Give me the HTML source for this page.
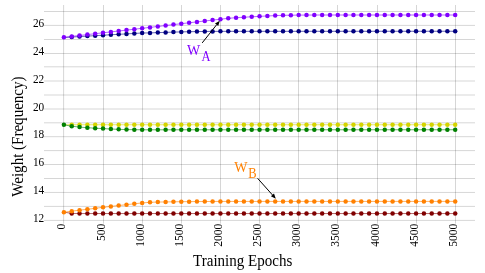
<!DOCTYPE html>
<html><head><meta charset="utf-8"><title>Training chart</title>
<style>
html,body{margin:0;padding:0;background:#fff;}
svg{display:block;font-family:"Liberation Serif",serif;will-change:transform;transform:translateZ(0);}
</style></head><body>
<svg width="485" height="273" viewBox="0 0 485 273">
<rect width="485" height="273" fill="#fff"/>

<g stroke="#000" stroke-opacity="0.16" stroke-width="1" fill="none">
<line x1="44" x2="475" y1="220.40" y2="220.40"/>
<line x1="44" x2="475" y1="206.40" y2="206.40"/>
<line x1="44" x2="475" y1="192.45" y2="192.45"/>
<line x1="44" x2="475" y1="178.50" y2="178.50"/>
<line x1="44" x2="475" y1="164.50" y2="164.50"/>
<line x1="44" x2="475" y1="150.60" y2="150.60"/>
<line x1="44" x2="475" y1="136.70" y2="136.70"/>
<line x1="44" x2="475" y1="122.80" y2="122.80"/>
<line x1="44" x2="475" y1="109.00" y2="109.00"/>
<line x1="44" x2="475" y1="95.00" y2="95.00"/>
<line x1="44" x2="475" y1="81.00" y2="81.00"/>
<line x1="44" x2="475" y1="66.80" y2="66.80"/>
<line x1="44" x2="475" y1="53.50" y2="53.50"/>
<line x1="44" x2="475" y1="39.50" y2="39.50"/>
<line x1="44" x2="475" y1="25.40" y2="25.40"/>
<line x1="44" x2="475" y1="11.50" y2="11.50"/>
<line x1="63.6" x2="63.6" y1="5" y2="223.6"/>
<line x1="103.5" x2="103.5" y1="5" y2="223.6"/>
<line x1="142.5" x2="142.5" y1="5" y2="223.6"/>
<line x1="181.5" x2="181.5" y1="5" y2="223.6"/>
<line x1="220.5" x2="220.5" y1="5" y2="223.6"/>
<line x1="259.5" x2="259.5" y1="5" y2="223.6"/>
<line x1="298.5" x2="298.5" y1="5" y2="223.6"/>
<line x1="337.5" x2="337.5" y1="5" y2="223.6"/>
<line x1="377.5" x2="377.5" y1="5" y2="223.6"/>
<line x1="416.5" x2="416.5" y1="5" y2="223.6"/>
<line x1="455.5" x2="455.5" y1="5" y2="223.6"/>
</g>
<g font-size="12" fill="#000" text-anchor="end">
<text transform="translate(44.2,222.00) scale(0.94,1)">12</text>
<text transform="translate(44.2,194.05) scale(0.94,1)">14</text>
<text transform="translate(44.2,166.10) scale(0.94,1)">16</text>
<text transform="translate(44.2,138.30) scale(0.94,1)">18</text>
<text transform="translate(44.2,110.60) scale(0.94,1)">20</text>
<text transform="translate(44.2,82.60) scale(0.94,1)">22</text>
<text transform="translate(44.2,55.10) scale(0.94,1)">24</text>
<text transform="translate(44.2,27.00) scale(0.94,1)">26</text>
</g>
<g font-size="12.4" fill="#000" text-anchor="end">
<text transform="translate(64.85,223.7) rotate(-90) scale(0.93,1)">0</text>
<text transform="translate(104.75,223.7) rotate(-90) scale(0.93,1)">500</text>
<text transform="translate(143.75,223.7) rotate(-90) scale(0.93,1)">1000</text>
<text transform="translate(182.75,223.7) rotate(-90) scale(0.93,1)">1500</text>
<text transform="translate(221.75,223.7) rotate(-90) scale(0.93,1)">2000</text>
<text transform="translate(260.75,223.7) rotate(-90) scale(0.93,1)">2500</text>
<text transform="translate(299.75,223.7) rotate(-90) scale(0.93,1)">3000</text>
<text transform="translate(338.75,223.7) rotate(-90) scale(0.93,1)">3500</text>
<text transform="translate(378.75,223.7) rotate(-90) scale(0.93,1)">4000</text>
<text transform="translate(417.75,223.7) rotate(-90) scale(0.93,1)">4500</text>
<text transform="translate(456.75,223.7) rotate(-90) scale(0.93,1)">5000</text>
</g>
<text transform="translate(242.7,265.6) scale(0.94,1)" font-size="16" text-anchor="middle" fill="#000">Training Epochs</text>
<text transform="translate(23,136.6) rotate(-90) scale(0.94,1)" font-size="16" text-anchor="middle" fill="#000">Weight (Frequency)</text>
<polyline points="63.90,37.50 71.73,37.04 79.55,36.58 87.38,36.12 95.20,35.66 103.03,35.20 110.86,34.76 118.68,34.32 126.51,33.88 134.33,33.44 142.16,33.00 149.99,32.90 157.81,32.60 165.64,32.40 173.46,32.10 181.29,31.90 189.12,31.70 196.94,31.60 204.77,31.45 212.59,31.40 220.42,31.35 228.25,31.35 236.07,31.34 243.90,31.34 251.72,31.34 259.55,31.33 267.38,31.33 275.20,31.33 283.03,31.32 290.85,31.32 298.68,31.32 306.51,31.31 314.33,31.31 322.16,31.31 329.98,31.30 337.81,31.30 345.64,31.30 353.46,31.29 361.29,31.29 369.11,31.29 376.94,31.28 384.77,31.28 392.59,31.28 400.42,31.27 408.24,31.27 416.07,31.27 423.90,31.26 431.72,31.26 439.55,31.26 447.37,31.25 455.20,31.25" fill="none" stroke="#000080" stroke-width="1" stroke-opacity="0.6"/>
<g fill="#000080"><circle cx="71.73" cy="37.04" r="2.25"/><circle cx="79.55" cy="36.58" r="2.25"/><circle cx="87.38" cy="36.12" r="2.25"/><circle cx="95.20" cy="35.66" r="2.25"/><circle cx="103.03" cy="35.20" r="2.25"/><circle cx="110.86" cy="34.76" r="2.25"/><circle cx="118.68" cy="34.32" r="2.25"/><circle cx="126.51" cy="33.88" r="2.25"/><circle cx="134.33" cy="33.44" r="2.25"/><circle cx="142.16" cy="33.00" r="2.25"/><circle cx="149.99" cy="32.90" r="2.25"/><circle cx="157.81" cy="32.60" r="2.25"/><circle cx="165.64" cy="32.40" r="2.25"/><circle cx="173.46" cy="32.10" r="2.25"/><circle cx="181.29" cy="31.90" r="2.25"/><circle cx="189.12" cy="31.70" r="2.25"/><circle cx="196.94" cy="31.60" r="2.25"/><circle cx="204.77" cy="31.45" r="2.25"/><circle cx="212.59" cy="31.40" r="2.25"/><circle cx="220.42" cy="31.35" r="2.25"/><circle cx="228.25" cy="31.35" r="2.25"/><circle cx="236.07" cy="31.34" r="2.25"/><circle cx="243.90" cy="31.34" r="2.25"/><circle cx="251.72" cy="31.34" r="2.25"/><circle cx="259.55" cy="31.33" r="2.25"/><circle cx="267.38" cy="31.33" r="2.25"/><circle cx="275.20" cy="31.33" r="2.25"/><circle cx="283.03" cy="31.32" r="2.25"/><circle cx="290.85" cy="31.32" r="2.25"/><circle cx="298.68" cy="31.32" r="2.25"/><circle cx="306.51" cy="31.31" r="2.25"/><circle cx="314.33" cy="31.31" r="2.25"/><circle cx="322.16" cy="31.31" r="2.25"/><circle cx="329.98" cy="31.30" r="2.25"/><circle cx="337.81" cy="31.30" r="2.25"/><circle cx="345.64" cy="31.30" r="2.25"/><circle cx="353.46" cy="31.29" r="2.25"/><circle cx="361.29" cy="31.29" r="2.25"/><circle cx="369.11" cy="31.29" r="2.25"/><circle cx="376.94" cy="31.28" r="2.25"/><circle cx="384.77" cy="31.28" r="2.25"/><circle cx="392.59" cy="31.28" r="2.25"/><circle cx="400.42" cy="31.27" r="2.25"/><circle cx="408.24" cy="31.27" r="2.25"/><circle cx="416.07" cy="31.27" r="2.25"/><circle cx="423.90" cy="31.26" r="2.25"/><circle cx="431.72" cy="31.26" r="2.25"/><circle cx="439.55" cy="31.26" r="2.25"/><circle cx="447.37" cy="31.25" r="2.25"/><circle cx="455.20" cy="31.25" r="2.25"/></g>
<polyline points="63.90,37.30 71.73,36.40 79.55,35.50 87.38,34.60 95.20,33.70 103.03,32.80 110.86,31.90 118.68,31.00 126.51,30.10 134.33,29.20 142.16,28.30 149.99,27.38 157.81,26.46 165.64,25.54 173.46,24.62 181.29,23.70 189.12,22.80 196.94,21.90 204.77,21.00 212.59,20.10 220.42,19.20 228.25,18.30 236.07,17.70 243.90,17.20 251.72,16.80 259.55,16.35 267.38,15.96 275.20,15.60 283.03,15.30 290.85,15.20 298.68,15.10 306.51,15.07 314.33,15.03 322.16,15.00 329.98,15.00 337.81,15.00 345.64,15.00 353.46,15.00 361.29,15.00 369.11,15.00 376.94,15.00 384.77,15.00 392.59,15.00 400.42,15.00 408.24,15.00 416.07,15.00 423.90,15.00 431.72,15.00 439.55,15.00 447.37,15.00 455.20,15.00" fill="none" stroke="#8000ff" stroke-width="1" stroke-opacity="0.6"/>
<g fill="#8000ff"><circle cx="63.90" cy="37.30" r="2.25"/><circle cx="71.73" cy="36.40" r="2.25"/><circle cx="79.55" cy="35.50" r="2.25"/><circle cx="87.38" cy="34.60" r="2.25"/><circle cx="95.20" cy="33.70" r="2.25"/><circle cx="103.03" cy="32.80" r="2.25"/><circle cx="110.86" cy="31.90" r="2.25"/><circle cx="118.68" cy="31.00" r="2.25"/><circle cx="126.51" cy="30.10" r="2.25"/><circle cx="134.33" cy="29.20" r="2.25"/><circle cx="142.16" cy="28.30" r="2.25"/><circle cx="149.99" cy="27.38" r="2.25"/><circle cx="157.81" cy="26.46" r="2.25"/><circle cx="165.64" cy="25.54" r="2.25"/><circle cx="173.46" cy="24.62" r="2.25"/><circle cx="181.29" cy="23.70" r="2.25"/><circle cx="189.12" cy="22.80" r="2.25"/><circle cx="196.94" cy="21.90" r="2.25"/><circle cx="204.77" cy="21.00" r="2.25"/><circle cx="212.59" cy="20.10" r="2.25"/><circle cx="220.42" cy="19.20" r="2.25"/><circle cx="228.25" cy="18.30" r="2.25"/><circle cx="236.07" cy="17.70" r="2.25"/><circle cx="243.90" cy="17.20" r="2.25"/><circle cx="251.72" cy="16.80" r="2.25"/><circle cx="259.55" cy="16.35" r="2.25"/><circle cx="267.38" cy="15.96" r="2.25"/><circle cx="275.20" cy="15.60" r="2.25"/><circle cx="283.03" cy="15.30" r="2.25"/><circle cx="290.85" cy="15.20" r="2.25"/><circle cx="298.68" cy="15.10" r="2.25"/><circle cx="306.51" cy="15.07" r="2.25"/><circle cx="314.33" cy="15.03" r="2.25"/><circle cx="322.16" cy="15.00" r="2.25"/><circle cx="329.98" cy="15.00" r="2.25"/><circle cx="337.81" cy="15.00" r="2.25"/><circle cx="345.64" cy="15.00" r="2.25"/><circle cx="353.46" cy="15.00" r="2.25"/><circle cx="361.29" cy="15.00" r="2.25"/><circle cx="369.11" cy="15.00" r="2.25"/><circle cx="376.94" cy="15.00" r="2.25"/><circle cx="384.77" cy="15.00" r="2.25"/><circle cx="392.59" cy="15.00" r="2.25"/><circle cx="400.42" cy="15.00" r="2.25"/><circle cx="408.24" cy="15.00" r="2.25"/><circle cx="416.07" cy="15.00" r="2.25"/><circle cx="423.90" cy="15.00" r="2.25"/><circle cx="431.72" cy="15.00" r="2.25"/><circle cx="439.55" cy="15.00" r="2.25"/><circle cx="447.37" cy="15.00" r="2.25"/><circle cx="455.20" cy="15.00" r="2.25"/></g>
<polyline points="63.90,124.75 71.73,124.75 79.55,124.75 87.38,124.75 95.20,124.75 103.03,124.75 110.86,124.75 118.68,124.75 126.51,124.75 134.33,124.75 142.16,124.75 149.99,124.75 157.81,124.75 165.64,124.75 173.46,124.75 181.29,124.75 189.12,124.75 196.94,124.75 204.77,124.75 212.59,124.75 220.42,124.75 228.25,124.75 236.07,124.75 243.90,124.75 251.72,124.75 259.55,124.75 267.38,124.75 275.20,124.75 283.03,124.75 290.85,124.75 298.68,124.75 306.51,124.75 314.33,124.75 322.16,124.75 329.98,124.75 337.81,124.75 345.64,124.75 353.46,124.75 361.29,124.75 369.11,124.75 376.94,124.75 384.77,124.75 392.59,124.75 400.42,124.75 408.24,124.75 416.07,124.75 423.90,124.75 431.72,124.75 439.55,124.75 447.37,124.75 455.20,124.75" fill="none" stroke="#d4d400" stroke-width="1" stroke-opacity="0.6"/>
<g fill="#d4d400"><circle cx="71.73" cy="124.75" r="2.25"/><circle cx="79.55" cy="124.75" r="2.25"/><circle cx="87.38" cy="124.75" r="2.25"/><circle cx="95.20" cy="124.75" r="2.25"/><circle cx="103.03" cy="124.75" r="2.25"/><circle cx="110.86" cy="124.75" r="2.25"/><circle cx="118.68" cy="124.75" r="2.25"/><circle cx="126.51" cy="124.75" r="2.25"/><circle cx="134.33" cy="124.75" r="2.25"/><circle cx="142.16" cy="124.75" r="2.25"/><circle cx="149.99" cy="124.75" r="2.25"/><circle cx="157.81" cy="124.75" r="2.25"/><circle cx="165.64" cy="124.75" r="2.25"/><circle cx="173.46" cy="124.75" r="2.25"/><circle cx="181.29" cy="124.75" r="2.25"/><circle cx="189.12" cy="124.75" r="2.25"/><circle cx="196.94" cy="124.75" r="2.25"/><circle cx="204.77" cy="124.75" r="2.25"/><circle cx="212.59" cy="124.75" r="2.25"/><circle cx="220.42" cy="124.75" r="2.25"/><circle cx="228.25" cy="124.75" r="2.25"/><circle cx="236.07" cy="124.75" r="2.25"/><circle cx="243.90" cy="124.75" r="2.25"/><circle cx="251.72" cy="124.75" r="2.25"/><circle cx="259.55" cy="124.75" r="2.25"/><circle cx="267.38" cy="124.75" r="2.25"/><circle cx="275.20" cy="124.75" r="2.25"/><circle cx="283.03" cy="124.75" r="2.25"/><circle cx="290.85" cy="124.75" r="2.25"/><circle cx="298.68" cy="124.75" r="2.25"/><circle cx="306.51" cy="124.75" r="2.25"/><circle cx="314.33" cy="124.75" r="2.25"/><circle cx="322.16" cy="124.75" r="2.25"/><circle cx="329.98" cy="124.75" r="2.25"/><circle cx="337.81" cy="124.75" r="2.25"/><circle cx="345.64" cy="124.75" r="2.25"/><circle cx="353.46" cy="124.75" r="2.25"/><circle cx="361.29" cy="124.75" r="2.25"/><circle cx="369.11" cy="124.75" r="2.25"/><circle cx="376.94" cy="124.75" r="2.25"/><circle cx="384.77" cy="124.75" r="2.25"/><circle cx="392.59" cy="124.75" r="2.25"/><circle cx="400.42" cy="124.75" r="2.25"/><circle cx="408.24" cy="124.75" r="2.25"/><circle cx="416.07" cy="124.75" r="2.25"/><circle cx="423.90" cy="124.75" r="2.25"/><circle cx="431.72" cy="124.75" r="2.25"/><circle cx="439.55" cy="124.75" r="2.25"/><circle cx="447.37" cy="124.75" r="2.25"/><circle cx="455.20" cy="124.75" r="2.25"/></g>
<polyline points="63.90,124.86 71.73,126.20 79.55,127.10 87.38,127.70 95.20,128.20 103.03,128.60 110.86,129.00 118.68,129.35 126.51,129.60 134.33,129.70 142.16,129.80 149.99,129.80 157.81,129.80 165.64,129.80 173.46,129.80 181.29,129.79 189.12,129.79 196.94,129.79 204.77,129.79 212.59,129.79 220.42,129.79 228.25,129.79 236.07,129.78 243.90,129.78 251.72,129.78 259.55,129.78 267.38,129.78 275.20,129.78 283.03,129.78 290.85,129.78 298.68,129.78 306.51,129.77 314.33,129.77 322.16,129.77 329.98,129.77 337.81,129.77 345.64,129.77 353.46,129.77 361.29,129.77 369.11,129.76 376.94,129.76 384.77,129.76 392.59,129.76 400.42,129.76 408.24,129.76 416.07,129.76 423.90,129.75 431.72,129.75 439.55,129.75 447.37,129.75 455.20,129.75" fill="none" stroke="#008000" stroke-width="1" stroke-opacity="0.6"/>
<g fill="#008000"><circle cx="63.90" cy="124.86" r="2.25"/><circle cx="71.73" cy="126.20" r="2.25"/><circle cx="79.55" cy="127.10" r="2.25"/><circle cx="87.38" cy="127.70" r="2.25"/><circle cx="95.20" cy="128.20" r="2.25"/><circle cx="103.03" cy="128.60" r="2.25"/><circle cx="110.86" cy="129.00" r="2.25"/><circle cx="118.68" cy="129.35" r="2.25"/><circle cx="126.51" cy="129.60" r="2.25"/><circle cx="134.33" cy="129.70" r="2.25"/><circle cx="142.16" cy="129.80" r="2.25"/><circle cx="149.99" cy="129.80" r="2.25"/><circle cx="157.81" cy="129.80" r="2.25"/><circle cx="165.64" cy="129.80" r="2.25"/><circle cx="173.46" cy="129.80" r="2.25"/><circle cx="181.29" cy="129.79" r="2.25"/><circle cx="189.12" cy="129.79" r="2.25"/><circle cx="196.94" cy="129.79" r="2.25"/><circle cx="204.77" cy="129.79" r="2.25"/><circle cx="212.59" cy="129.79" r="2.25"/><circle cx="220.42" cy="129.79" r="2.25"/><circle cx="228.25" cy="129.79" r="2.25"/><circle cx="236.07" cy="129.78" r="2.25"/><circle cx="243.90" cy="129.78" r="2.25"/><circle cx="251.72" cy="129.78" r="2.25"/><circle cx="259.55" cy="129.78" r="2.25"/><circle cx="267.38" cy="129.78" r="2.25"/><circle cx="275.20" cy="129.78" r="2.25"/><circle cx="283.03" cy="129.78" r="2.25"/><circle cx="290.85" cy="129.78" r="2.25"/><circle cx="298.68" cy="129.78" r="2.25"/><circle cx="306.51" cy="129.77" r="2.25"/><circle cx="314.33" cy="129.77" r="2.25"/><circle cx="322.16" cy="129.77" r="2.25"/><circle cx="329.98" cy="129.77" r="2.25"/><circle cx="337.81" cy="129.77" r="2.25"/><circle cx="345.64" cy="129.77" r="2.25"/><circle cx="353.46" cy="129.77" r="2.25"/><circle cx="361.29" cy="129.77" r="2.25"/><circle cx="369.11" cy="129.76" r="2.25"/><circle cx="376.94" cy="129.76" r="2.25"/><circle cx="384.77" cy="129.76" r="2.25"/><circle cx="392.59" cy="129.76" r="2.25"/><circle cx="400.42" cy="129.76" r="2.25"/><circle cx="408.24" cy="129.76" r="2.25"/><circle cx="416.07" cy="129.76" r="2.25"/><circle cx="423.90" cy="129.75" r="2.25"/><circle cx="431.72" cy="129.75" r="2.25"/><circle cx="439.55" cy="129.75" r="2.25"/><circle cx="447.37" cy="129.75" r="2.25"/><circle cx="455.20" cy="129.75" r="2.25"/></g>
<polyline points="63.90,212.17 71.73,213.40 79.55,213.55 87.38,213.55 95.20,213.55 103.03,213.55 110.86,213.55 118.68,213.55 126.51,213.55 134.33,213.55 142.16,213.55 149.99,213.55 157.81,213.55 165.64,213.55 173.46,213.55 181.29,213.55 189.12,213.55 196.94,213.55 204.77,213.55 212.59,213.55 220.42,213.55 228.25,213.55 236.07,213.55 243.90,213.55 251.72,213.55 259.55,213.55 267.38,213.55 275.20,213.55 283.03,213.55 290.85,213.55 298.68,213.55 306.51,213.55 314.33,213.55 322.16,213.55 329.98,213.55 337.81,213.55 345.64,213.55 353.46,213.55 361.29,213.55 369.11,213.55 376.94,213.55 384.77,213.55 392.59,213.55 400.42,213.55 408.24,213.55 416.07,213.55 423.90,213.55 431.72,213.55 439.55,213.55 447.37,213.55 455.20,213.55" fill="none" stroke="#800000" stroke-width="1" stroke-opacity="0.6"/>
<g fill="#800000"><circle cx="71.73" cy="213.40" r="2.25"/><circle cx="79.55" cy="213.55" r="2.25"/><circle cx="87.38" cy="213.55" r="2.25"/><circle cx="95.20" cy="213.55" r="2.25"/><circle cx="103.03" cy="213.55" r="2.25"/><circle cx="110.86" cy="213.55" r="2.25"/><circle cx="118.68" cy="213.55" r="2.25"/><circle cx="126.51" cy="213.55" r="2.25"/><circle cx="134.33" cy="213.55" r="2.25"/><circle cx="142.16" cy="213.55" r="2.25"/><circle cx="149.99" cy="213.55" r="2.25"/><circle cx="157.81" cy="213.55" r="2.25"/><circle cx="165.64" cy="213.55" r="2.25"/><circle cx="173.46" cy="213.55" r="2.25"/><circle cx="181.29" cy="213.55" r="2.25"/><circle cx="189.12" cy="213.55" r="2.25"/><circle cx="196.94" cy="213.55" r="2.25"/><circle cx="204.77" cy="213.55" r="2.25"/><circle cx="212.59" cy="213.55" r="2.25"/><circle cx="220.42" cy="213.55" r="2.25"/><circle cx="228.25" cy="213.55" r="2.25"/><circle cx="236.07" cy="213.55" r="2.25"/><circle cx="243.90" cy="213.55" r="2.25"/><circle cx="251.72" cy="213.55" r="2.25"/><circle cx="259.55" cy="213.55" r="2.25"/><circle cx="267.38" cy="213.55" r="2.25"/><circle cx="275.20" cy="213.55" r="2.25"/><circle cx="283.03" cy="213.55" r="2.25"/><circle cx="290.85" cy="213.55" r="2.25"/><circle cx="298.68" cy="213.55" r="2.25"/><circle cx="306.51" cy="213.55" r="2.25"/><circle cx="314.33" cy="213.55" r="2.25"/><circle cx="322.16" cy="213.55" r="2.25"/><circle cx="329.98" cy="213.55" r="2.25"/><circle cx="337.81" cy="213.55" r="2.25"/><circle cx="345.64" cy="213.55" r="2.25"/><circle cx="353.46" cy="213.55" r="2.25"/><circle cx="361.29" cy="213.55" r="2.25"/><circle cx="369.11" cy="213.55" r="2.25"/><circle cx="376.94" cy="213.55" r="2.25"/><circle cx="384.77" cy="213.55" r="2.25"/><circle cx="392.59" cy="213.55" r="2.25"/><circle cx="400.42" cy="213.55" r="2.25"/><circle cx="408.24" cy="213.55" r="2.25"/><circle cx="416.07" cy="213.55" r="2.25"/><circle cx="423.90" cy="213.55" r="2.25"/><circle cx="431.72" cy="213.55" r="2.25"/><circle cx="439.55" cy="213.55" r="2.25"/><circle cx="447.37" cy="213.55" r="2.25"/><circle cx="455.20" cy="213.55" r="2.25"/></g>
<polyline points="63.90,212.27 71.73,211.15 79.55,210.15 87.38,209.30 95.20,208.30 103.03,207.30 110.86,206.40 118.68,205.54 126.51,204.67 134.33,203.80 142.16,202.93 149.99,202.30 157.81,202.05 165.64,201.93 173.46,201.80 181.29,201.70 189.12,201.63 196.94,201.56 204.77,201.52 212.59,201.47 220.42,201.43 228.25,201.43 236.07,201.43 243.90,201.43 251.72,201.43 259.55,201.43 267.38,201.42 275.20,201.42 283.03,201.42 290.85,201.42 298.68,201.42 306.51,201.42 314.33,201.42 322.16,201.42 329.98,201.42 337.81,201.41 345.64,201.41 353.46,201.41 361.29,201.41 369.11,201.41 376.94,201.41 384.77,201.41 392.59,201.41 400.42,201.41 408.24,201.41 416.07,201.41 423.90,201.40 431.72,201.40 439.55,201.40 447.37,201.40 455.20,201.40" fill="none" stroke="#ff8000" stroke-width="1" stroke-opacity="0.6"/>
<g fill="#ff8000"><circle cx="63.90" cy="212.27" r="2.25"/><circle cx="71.73" cy="211.15" r="2.25"/><circle cx="79.55" cy="210.15" r="2.25"/><circle cx="87.38" cy="209.30" r="2.25"/><circle cx="95.20" cy="208.30" r="2.25"/><circle cx="103.03" cy="207.30" r="2.25"/><circle cx="110.86" cy="206.40" r="2.25"/><circle cx="118.68" cy="205.54" r="2.25"/><circle cx="126.51" cy="204.67" r="2.25"/><circle cx="134.33" cy="203.80" r="2.25"/><circle cx="142.16" cy="202.93" r="2.25"/><circle cx="149.99" cy="202.30" r="2.25"/><circle cx="157.81" cy="202.05" r="2.25"/><circle cx="165.64" cy="201.93" r="2.25"/><circle cx="173.46" cy="201.80" r="2.25"/><circle cx="181.29" cy="201.70" r="2.25"/><circle cx="189.12" cy="201.63" r="2.25"/><circle cx="196.94" cy="201.56" r="2.25"/><circle cx="204.77" cy="201.52" r="2.25"/><circle cx="212.59" cy="201.47" r="2.25"/><circle cx="220.42" cy="201.43" r="2.25"/><circle cx="228.25" cy="201.43" r="2.25"/><circle cx="236.07" cy="201.43" r="2.25"/><circle cx="243.90" cy="201.43" r="2.25"/><circle cx="251.72" cy="201.43" r="2.25"/><circle cx="259.55" cy="201.43" r="2.25"/><circle cx="267.38" cy="201.42" r="2.25"/><circle cx="275.20" cy="201.42" r="2.25"/><circle cx="283.03" cy="201.42" r="2.25"/><circle cx="290.85" cy="201.42" r="2.25"/><circle cx="298.68" cy="201.42" r="2.25"/><circle cx="306.51" cy="201.42" r="2.25"/><circle cx="314.33" cy="201.42" r="2.25"/><circle cx="322.16" cy="201.42" r="2.25"/><circle cx="329.98" cy="201.42" r="2.25"/><circle cx="337.81" cy="201.41" r="2.25"/><circle cx="345.64" cy="201.41" r="2.25"/><circle cx="353.46" cy="201.41" r="2.25"/><circle cx="361.29" cy="201.41" r="2.25"/><circle cx="369.11" cy="201.41" r="2.25"/><circle cx="376.94" cy="201.41" r="2.25"/><circle cx="384.77" cy="201.41" r="2.25"/><circle cx="392.59" cy="201.41" r="2.25"/><circle cx="400.42" cy="201.41" r="2.25"/><circle cx="408.24" cy="201.41" r="2.25"/><circle cx="416.07" cy="201.41" r="2.25"/><circle cx="423.90" cy="201.40" r="2.25"/><circle cx="431.72" cy="201.40" r="2.25"/><circle cx="439.55" cy="201.40" r="2.25"/><circle cx="447.37" cy="201.40" r="2.25"/><circle cx="455.20" cy="201.40" r="2.25"/></g>
<g fill="#8000ff"><text x="187" y="54.6" font-size="14">W</text><text transform="translate(201.5,60.8) scale(0.92,1)" font-size="13.6">A</text></g>
<g fill="#ff8000"><text x="234.3" y="172.4" font-size="14">W</text><text transform="translate(248.3,177.9) scale(0.92,1)" font-size="13.6">B</text></g>
<line x1="202.2" y1="42.9" x2="216.64" y2="24.76" stroke="#000" stroke-width="1"/><polygon points="219.75,20.85 218.24,26.04 215.03,23.49" fill="#000"/>
<line x1="257.6" y1="178.3" x2="272.47" y2="194.97" stroke="#000" stroke-width="1"/><polygon points="275.80,198.70 270.94,196.33 274.00,193.60" fill="#000"/>
</svg></body></html>
